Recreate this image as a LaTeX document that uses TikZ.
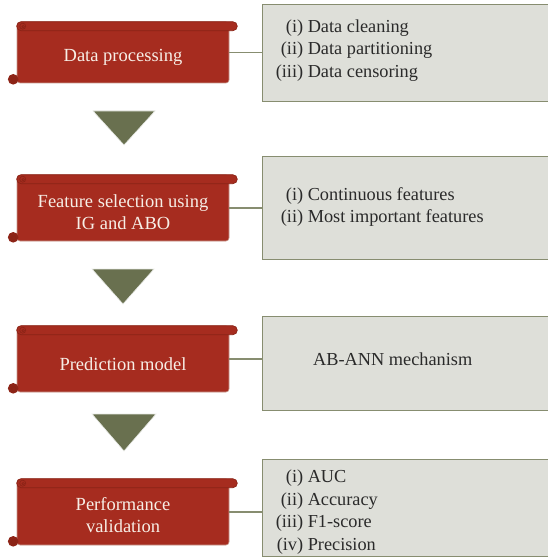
\documentclass[tikz,border=0pt]{standalone}
\usepackage{fontspec}
\setmainfont{Liberation Serif}
\usetikzlibrary{calc}
\definecolor{scrollred}{HTML}{A62C1F}
\definecolor{scrolldark}{HTML}{8A2316}
\definecolor{scrolledge}{HTML}{C79A8E}
\definecolor{boxfill}{HTML}{DEDFD9}
\definecolor{boxline}{HTML}{878D70}
\definecolor{trifill}{HTML}{69704F}
\definecolor{textgray}{HTML}{2A2A2A}
\definecolor{textlight}{HTML}{F7EEE6}
\begin{document}
\begin{tikzpicture}[x=1pt,y=-1pt,
  scrollbody/.style={fill=scrollred, draw=scrolledge, line width=0.6pt, rounded corners=3pt,
    minimum width=212pt, inner sep=0pt},
  scrolltext/.style={text=textlight, align=center, font=\fontsize{18.5}{22.5}\selectfont, inner sep=0pt},
  graybox/.style={fill=boxfill, draw=boxline, line width=1.3pt, minimum width=320pt, anchor=north west, inner sep=0pt},
  listtext/.style={text=textgray, align=left, font=\fontsize{18.3}{22.7}\selectfont, anchor=west, inner sep=0pt},
  conn/.style={draw=boxline, line width=1.1pt},
  tri/.style={fill=trifill, draw=white!85!trifill, line width=0.6pt},
  bar/.style={fill=scrollred, draw=scrolldark, line width=0.7pt, rounded corners=4.5pt},
  curl/.style={fill=scrolldark!90!scrollred},
  spiral/.style={draw=scrolldark, line width=0.6pt}
]
\useasboundingbox (0,0) rectangle (547,559);

% gray boxes
\node[graybox, minimum height=97pt] (g1) at (262,4) {};
\node[graybox, minimum height=103pt] (g2) at (262,156) {};
\node[graybox, minimum height=94pt] (g3) at (262,316) {};
\node[graybox, minimum height=97pt] (g4) at (262,459) {};

% scroll bodies
\node[scrollbody, minimum height=61pt] (s1) at (123,52.5) {};
\node[scrollbody, minimum height=66pt] (s2) at (123,208) {};
\node[scrollbody, minimum height=66pt] (s3) at (123,359) {};
\node[scrollbody, minimum height=66pt] (s4) at (123,512) {};

% scroll decorations
\foreach \s in {s1,s2,s3,s4}{
  \draw[bar] (\s.north west) rectangle ($(\s.north east)+(8,9)$);
  \draw[spiral] ($(\s.north west)+(6,4.5)$) circle (3pt);
  \draw[spiral] ($(\s.north west)+(6.5,5)$) circle (1.3pt);
  \fill[curl] ($(\s.south west)+(-3.5,-4)$) circle (5.3pt);
  \draw[spiral] ($(\s.south west)+(-3,-3.5)$) circle (2.2pt);
}

% scroll texts
\node[scrolltext] (s1t) at ($(s1.center)+(0,5)$) {Data processing};
\node[scrolltext] (s2t) at ($(s2.center)+(0,4)$) {Feature selection using\\IG and ABO};
\node[scrolltext] (s3t) at ($(s3.center)+(0,5)$) {Prediction model};
\node[scrolltext] (s4t) at ($(s4.center)+(0,3)$) {Performance\\validation};

% connectors
\draw[conn] (s1.east) -- (s1.east -| g1.west);
\draw[conn] (s2.east) -- (s2.east -| g2.west);
\draw[conn] (s3.east) -- (s3.east -| g3.west);
\draw[conn] (s4.east) -- (s4.east -| g4.west);

% list texts
\node[listtext] (l1) at (275,50.5) {\makebox[28pt][r]{(i)}\ Data cleaning\\\makebox[28pt][r]{(ii)}\ Data partitioning\\\makebox[28pt][r]{(iii)}\ Data censoring};
\node[listtext] (l2) at (275,207) {\makebox[28pt][r]{(i)}\ Continuous features\\\makebox[28pt][r]{(ii)}\ Most important features};
\node[text=textgray, font=\fontsize{18.3}{22}\selectfont, anchor=west, inner sep=0pt] (l3) at (313,359) {AB-ANN mechanism};
\node[listtext] (l4) at (275,512) {\makebox[28pt][r]{(i)}\ AUC\\\makebox[28pt][r]{(ii)}\ Accuracy\\\makebox[28pt][r]{(iii)}\ F1-score\\\makebox[28pt][r]{(iv)}\ Precision};

% arrows (triangles)
\draw[tri] (93,111) -- (155,111) -- (124,145) -- cycle;
\draw[tri] (92,269) -- (154,269) -- (123,304) -- cycle;
\draw[tri] (92,414) -- (156,414) -- (124,451) -- cycle;
\end{tikzpicture}
\end{document}
